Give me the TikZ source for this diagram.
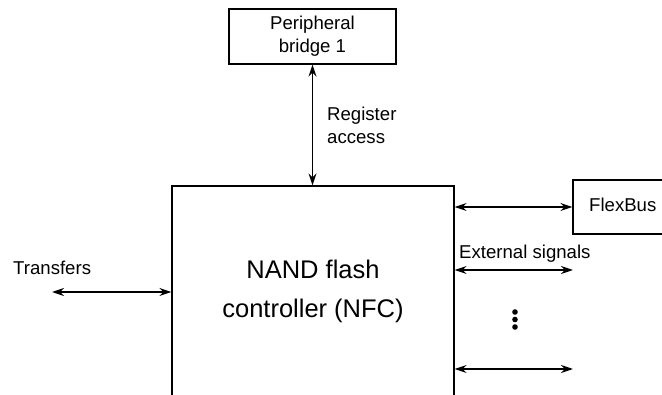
\documentclass[tikz,border=0pt]{standalone}
\usepackage{fontspec}
\setmainfont{Liberation Sans}
\usetikzlibrary{arrows.meta,positioning}
\begin{document}
\begin{tikzpicture}[x=1pt, y=-1pt,
    box/.style={draw, line width=1.2pt, inner sep=0pt},
    lbl/.style={font=\fontsize{18.6}{23}\selectfont, align=left, inner sep=0pt},
    bus/.style={{Stealth[length=12pt,width=8pt]}-{Stealth[length=12pt,width=8pt]}, line width=1.6pt}]
    \useasboundingbox (0,0) rectangle (662,395);
    \clip (0,0) rectangle (662,395);

    % 方框
    \node[box, minimum width=167pt, minimum height=55pt, align=center,
          font=\fontsize{18.6}{23}\selectfont] (bridge) at (312.5,36.5) {Peripheral\\bridge 1};
    \node[box, minimum width=282pt, minimum height=244pt] (nfc) at (313,308) {};
    \node[align=center, inner sep=0pt, font=\fontsize{25.5}{39}\selectfont] (nfctext) at (313,291)
        {NAND flash\\controller (NFC)};
    \node[box, minimum width=127pt, minimum height=54pt] (flex) at (636.5,207) {};
    \node[lbl, anchor=base west] (flextext) at (589,212) {FlexBus};

    % 连线
    \coordinate (tr) at (52,292);
    \coordinate (ext1) at (573,270);
    \coordinate (ext2) at (573,369);
    \draw[bus] (bridge.south) -- (bridge.south |- nfc.north);
    \draw[bus] (tr) -- (tr -| nfc.west);
    \draw[bus] (nfc.east |- flex.west) -- (flex.west);
    \draw[bus] (nfc.east |- ext1) -- (ext1);
    \draw[bus] (nfc.east |- ext2) -- (ext2);
    \foreach \y in {312,319.5,327}
        \fill (515,\y) circle (2.8pt);

    % 标注
    \node[lbl, anchor=west] (reg) at (327,125) {Register\\access};
    \node[lbl, anchor=base west] (ext) at (459,259) {External signals};
    \node[lbl, anchor=base west] (trans) at (13,275) {Transfers};
\end{tikzpicture}
\end{document}
